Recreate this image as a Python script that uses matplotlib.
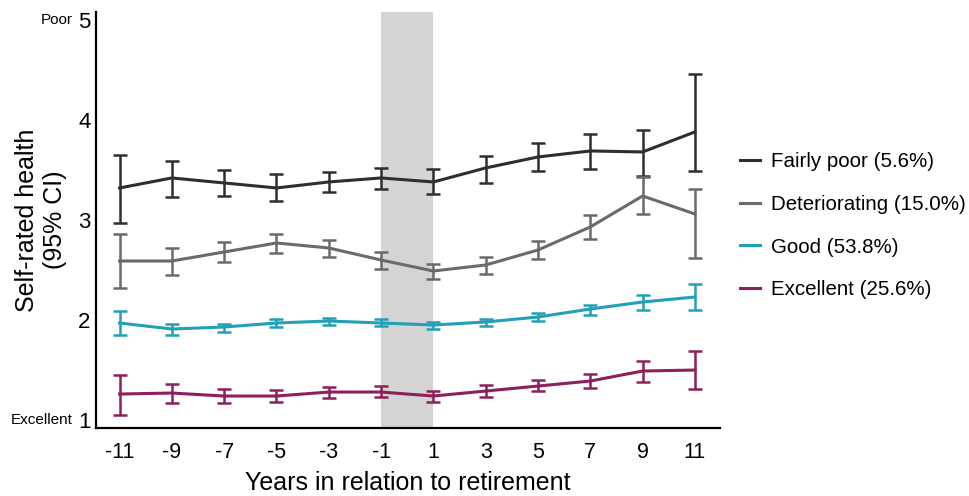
import numpy as np
import matplotlib.pyplot as plt

plt.rcParams['font.family'] = ['Liberation Sans', 'DejaVu Sans']
plt.rcParams['axes.unicode_minus'] = False

years = [-11, -9, -7, -5, -3, -1, 1, 3, 5, 7, 9, 11]

labels = ['Fairly poor (5.6%)', 'Deteriorating (15.0%)', 'Good (53.8%)', 'Excellent (25.6%)']
colors = ['#2e2e2e', '#6a6a6a', '#21a0b8', '#8c1f5c']

fairly_poor = [3.32, 3.42, 3.37, 3.32, 3.38, 3.42, 3.38, 3.52, 3.63, 3.69, 3.68, 3.88]
fairly_poor_lo = [2.97, 3.23, 3.24, 3.19, 3.28, 3.31, 3.26, 3.37, 3.49, 3.51, 3.44, 3.49]
fairly_poor_hi = [3.65, 3.59, 3.50, 3.46, 3.48, 3.52, 3.51, 3.64, 3.77, 3.86, 3.90, 4.46]

deteriorating = [2.59, 2.59, 2.68, 2.77, 2.72, 2.60, 2.49, 2.55, 2.70, 2.93, 3.24, 3.06]
deteriorating_lo = [2.32, 2.45, 2.58, 2.67, 2.63, 2.51, 2.41, 2.46, 2.61, 2.81, 3.06, 2.62]
deteriorating_hi = [2.86, 2.72, 2.78, 2.86, 2.80, 2.68, 2.56, 2.63, 2.79, 3.05, 3.43, 3.31]

good = [1.97, 1.91, 1.93, 1.97, 1.99, 1.97, 1.95, 1.98, 2.03, 2.11, 2.18, 2.23]
good_lo = [1.85, 1.85, 1.88, 1.93, 1.95, 1.94, 1.91, 1.94, 1.99, 2.05, 2.10, 2.10]
good_hi = [2.09, 1.96, 1.96, 2.01, 2.02, 2.01, 1.98, 2.01, 2.07, 2.15, 2.25, 2.36]

excellent = [1.26, 1.27, 1.24, 1.24, 1.28, 1.28, 1.24, 1.29, 1.34, 1.39, 1.49, 1.50]
excellent_lo = [1.05, 1.17, 1.17, 1.18, 1.22, 1.23, 1.18, 1.23, 1.29, 1.32, 1.38, 1.31]
excellent_hi = [1.45, 1.36, 1.31, 1.30, 1.33, 1.34, 1.29, 1.35, 1.40, 1.46, 1.59, 1.69]

series = [
    (fairly_poor, fairly_poor_lo, fairly_poor_hi),
    (deteriorating, deteriorating_lo, deteriorating_hi),
    (good, good_lo, good_hi),
    (excellent, excellent_lo, excellent_hi),
]

fig = plt.figure(figsize=(9.7, 4.96), dpi=100)
ax = fig.add_axes([0.099, 0.137, 0.643, 0.839])

# retirement window
ax.axvspan(-1, 1, color='#d4d4d4', lw=0, zorder=0)

x = np.array(years)
for (mean, lo, hi), lab, col in zip(series, labels, colors):
    mean = np.array(mean)
    yerr = [mean - np.array(lo), np.array(hi) - mean]
    ax.errorbar(x, mean, yerr=yerr, color=col, lw=2.2, elinewidth=1.8,
                capsize=5, capthick=1.8, label=lab, zorder=3)

ax.set_xlim(-11.9, 11.95)
ax.set_ylim(0.92, 5.08)
ax.set_xticks(years)
ax.set_yticks([1, 2, 3, 4, 5])
ax.tick_params(length=0)
ax.tick_params(axis='x', labelsize=15.5, pad=10)
ax.tick_params(axis='y', labelsize=16, pad=4)
for side in ['top', 'right']:
    ax.spines[side].set_visible(False)
for side in ['left', 'bottom']:
    ax.spines[side].set_linewidth(1.6)

ax.annotate('Poor', xy=(0, 5), xycoords=ax.get_yaxis_transform(),
            xytext=(-17, 0), textcoords='offset points',
            ha='right', va='center', fontsize=11)
ax.annotate('Excellent', xy=(0, 1), xycoords=ax.get_yaxis_transform(),
            xytext=(-17, 0), textcoords='offset points',
            ha='right', va='center', fontsize=11)

ax.set_xlabel('Years in relation to retirement', fontsize=18, labelpad=6)
ax.set_ylabel('Self-rated health\n(95% CI)', fontsize=18, labelpad=8)

handles, labs = ax.get_legend_handles_labels()
handles = [h[0] for h in handles]
ax.legend(handles, labs, loc='center left', bbox_to_anchor=(1.0, 0.486),
          frameon=False, fontsize=14.8, handlelength=0.95, labelspacing=1.15,
          handletextpad=0.55, borderaxespad=0.6)

fig.savefig('out.png', dpi=100)
